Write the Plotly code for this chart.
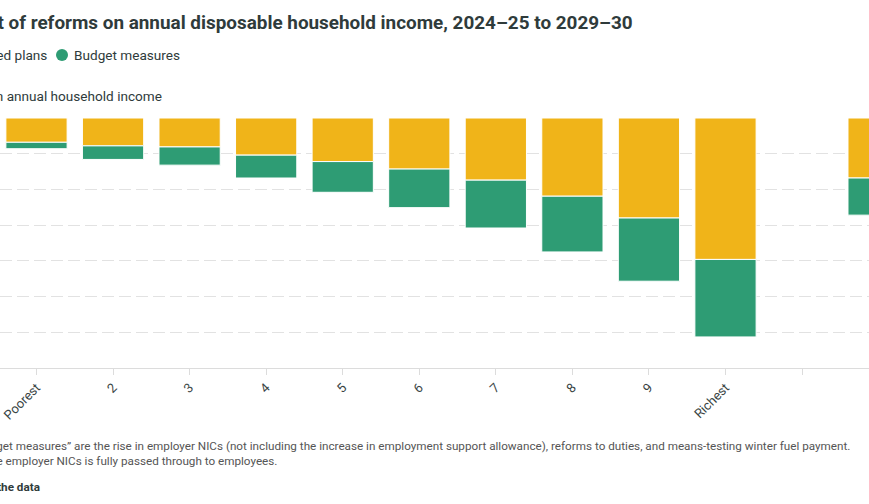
import plotly.graph_objects as go

categories = ["Poorest", "2", "3", "4", "5", "6", "7", "8", "9", "Richest", "", "All"]
inherited_plans = [-0.34, -0.39, -0.405, -0.52, -0.61, -0.715, -0.87, -1.095, -1.40, -1.98, None, -0.84]
budget_measures = [-0.09, -0.19, -0.255, -0.32, -0.43, -0.54, -0.67, -0.78, -0.885, -1.085, None, -0.52]
y_ticks = [0, -0.5, -1.0, -1.5, -2.0, -2.5, -3.0, -3.5]

YELLOW = "#F0B419"
GREEN = "#2E9C74"
TEXT = "#2f3b3b"
W, H = 869, 504
T, B = 118, 136
PH = H - T - B

def px_x(x):
    return x / W

def px_y(y):
    return (H - B - y) / PH

xpos = list(range(len(categories)))

fig = go.Figure()
fig.add_trace(go.Bar(x=xpos, y=inherited_plans, name="Inherited plans",
                     marker=dict(color=YELLOW, line=dict(color="white", width=1)),
                     showlegend=False))
fig.add_trace(go.Bar(x=xpos, y=budget_measures, name="Budget measures",
                     marker=dict(color=GREEN, line=dict(color="white", width=1)),
                     showlegend=False))

step = 689 / 9
r0 = -36.5 / step
r1 = r0 + W / step

fig.update_layout(
    width=W, height=H,
    margin=dict(l=0, r=0, t=T, b=B, pad=0, autoexpand=False),
    barmode="relative", bargap=0.2,
    plot_bgcolor="white", paper_bgcolor="white",
    font=dict(family="Roboto", color=TEXT),
    xaxis=dict(range=[r0, r1], tickmode="array", tickvals=xpos, ticktext=categories,
               tickangle=-45, ticks="outside", ticklen=6, tickcolor="#dcdcdc",
               showline=True, linecolor="#dcdcdc", linewidth=1, showgrid=False,
               zeroline=False, automargin=False, tickfont=dict(size=13, color="#3a4545")),
    yaxis=dict(range=[-3.5, 0], tickvals=y_ticks, showgrid=True, gridcolor="#e2e2e2",
               griddash="12px,5px", gridwidth=1, zeroline=False, showline=False,
               ticks="", showticklabels=False, automargin=False),
)

annos = [
    dict(text="<b>Impact of reforms on annual disposable household income, 2024–25 to 2029–30</b>",
         x=px_x(635), y=px_y(22), xanchor="right", yanchor="middle",
         font=dict(size=18.9, color=TEXT)),
    dict(text="Inherited plans", x=px_x(49), y=px_y(55), xanchor="right", yanchor="middle",
         font=dict(size=13.6, color=TEXT)),
    dict(text="Budget measures", x=px_x(72), y=px_y(55), xanchor="left", yanchor="middle",
         font=dict(size=13.6, color=TEXT)),
    dict(text="Change in annual household income", x=px_x(164), y=px_y(96),
         xanchor="right", yanchor="middle", font=dict(size=13.6, color=TEXT)),
    dict(text="Note: “Budget measures” are the rise in employer NICs (not including the increase in employment support allowance), reforms to duties, and means-testing winter fuel payment.",
         x=px_x(852), y=px_y(446), xanchor="right", yanchor="middle",
         font=dict(size=11.7, color="#555555")),
    dict(text="Assumes the incidence of the employer NICs is fully passed through to employees.",
         x=px_x(279), y=px_y(461), xanchor="right", yanchor="middle",
         font=dict(size=11.7, color="#555555")),
    dict(text="<b>Get the data</b>", x=px_x(42), y=px_y(487), xanchor="right", yanchor="middle",
         font=dict(size=11.7, color=TEXT)),
]
for a in annos:
    fig.add_annotation(xref="paper", yref="paper", showarrow=False, **a)

r = 6
for cx, col in [(-15, YELLOW), (62, GREEN)]:
    fig.add_shape(type="circle", xref="paper", yref="paper",
                  x0=px_x(cx - r), x1=px_x(cx + r), y0=px_y(55 + r), y1=px_y(55 - r),
                  fillcolor=col, line=dict(width=0))

fig.write_html("out.html")
